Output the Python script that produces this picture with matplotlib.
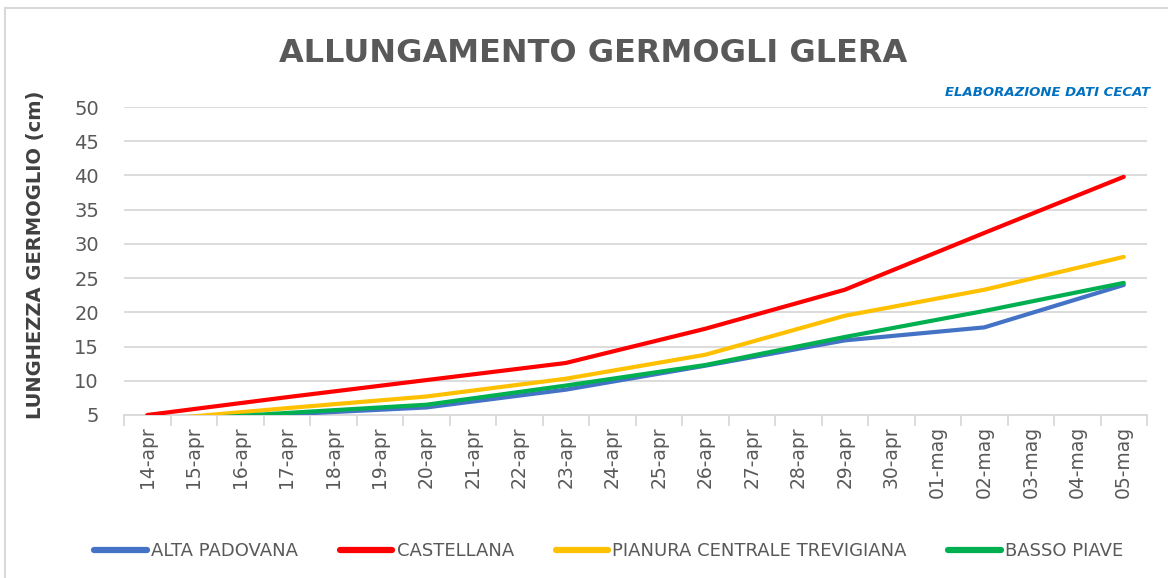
import numpy as np
import matplotlib
matplotlib.use('Agg')
import matplotlib.pyplot as plt
from matplotlib.patches import Rectangle

# Categories on the x axis
dates = ['14-apr', '15-apr', '16-apr', '17-apr', '18-apr', '19-apr', '20-apr',
         '21-apr', '22-apr', '23-apr', '24-apr', '25-apr', '26-apr', '27-apr',
         '28-apr', '29-apr', '30-apr', '01-mag', '02-mag', '03-mag', '04-mag', '05-mag']

# Survey dates (every 3 days) and measured shoot length (cm)
survey_dates = ['14-apr', '17-apr', '20-apr', '23-apr', '26-apr', '29-apr', '02-mag', '05-mag']
alta_padovana = [3.8, 5.1, 6.1, 8.7, 12.2, 15.9, 17.8, 24.0]
castellana = [5.0, 7.6, 10.1, 12.6, 17.6, 23.3, 31.6, 39.8]
pianura_trevigiana = [4.2, 6.0, 7.7, 10.3, 13.8, 19.5, 23.3, 28.1]
basso_piave = [4.0, 5.3, 6.5, 9.3, 12.3, 16.4, 20.2, 24.3]

series = [
    ('ALTA PADOVANA', alta_padovana, '#4472C4'),
    ('CASTELLANA', castellana, '#FF0000'),
    ('PIANURA CENTRALE TREVIGIANA', pianura_trevigiana, '#FFC000'),
    ('BASSO PIAVE', basso_piave, '#00B050'),
]

grey = '#595959'

fig = plt.figure(figsize=(11.68, 5.78), dpi=100)
ax = fig.add_axes([124 / 1168, 1 - 415 / 578, (1147 - 124) / 1168, (415 - 107) / 578])

x_pos = [dates.index(d) for d in survey_dates]
for label, vals, color in series:
    ax.plot(x_pos, vals, color=color, lw=3.0, label=label,
            solid_capstyle='round', solid_joinstyle='round', zorder=3)

ax.set_xlim(-0.5, len(dates) - 0.5)
ax.set_ylim(5, 50)
ax.set_yticks(np.arange(5, 51, 5))
ax.yaxis.grid(True, color='#d9d9d9', lw=1.3)
ax.set_axisbelow(True)

ax.set_xticks(range(len(dates)))
ax.set_xticklabels(dates, rotation=90, fontsize=13.5, color=grey)
ax.set_xticks(np.arange(-0.5, len(dates), 1), minor=True)
ax.tick_params(axis='x', which='major', length=0, pad=8)
ax.tick_params(axis='x', which='minor', length=8, color='#d9d9d9', width=1.3)
ax.tick_params(axis='y', length=0, labelsize=14, labelcolor=grey, pad=18)

for s in ['top', 'right', 'left']:
    ax.spines[s].set_visible(False)
ax.spines['bottom'].set_color('#d9d9d9')
ax.spines['bottom'].set_linewidth(1.3)

ax.set_ylabel('LUNGHEZZA GERMOGLIO (cm)', fontsize=14, fontweight='bold', color='#404040')
ax.yaxis.set_label_coords((45 - 124) / 1023, (415 - 255) / 308)

# Title and source note
fig.text(593 / 1168, 1 - 53 / 578, 'ALLUNGAMENTO GERMOGLI GLERA', ha='center', va='center',
         fontsize=23, fontweight='bold', color=grey)
fig.text(1150 / 1168, 1 - 93 / 578, 'ELABORAZIONE DATI CECAT', ha='right', va='center',
         fontsize=9.5, fontweight='bold', style='italic', color='#0070C0')

# Legend along the bottom
leg = fig.legend(loc='center', bbox_to_anchor=(609 / 1168, 1 - 551 / 578), ncol=4,
                 frameon=False, fontsize=13, handlelength=2.9, handletextpad=0.25,
                 columnspacing=2.3)
for t in leg.get_texts():
    t.set_color(grey)
for h in leg.get_lines():
    h.set_linewidth(4.5)

# Light border around the chart area
fig.patches.append(Rectangle((5 / 1168, -0.05), 1.2, 1 - 8 / 578 + 0.05,
                             transform=fig.transFigure, fill=False,
                             edgecolor='#d9d9d9', lw=1.5))

fig.savefig('out.png', dpi=100, facecolor='white')
